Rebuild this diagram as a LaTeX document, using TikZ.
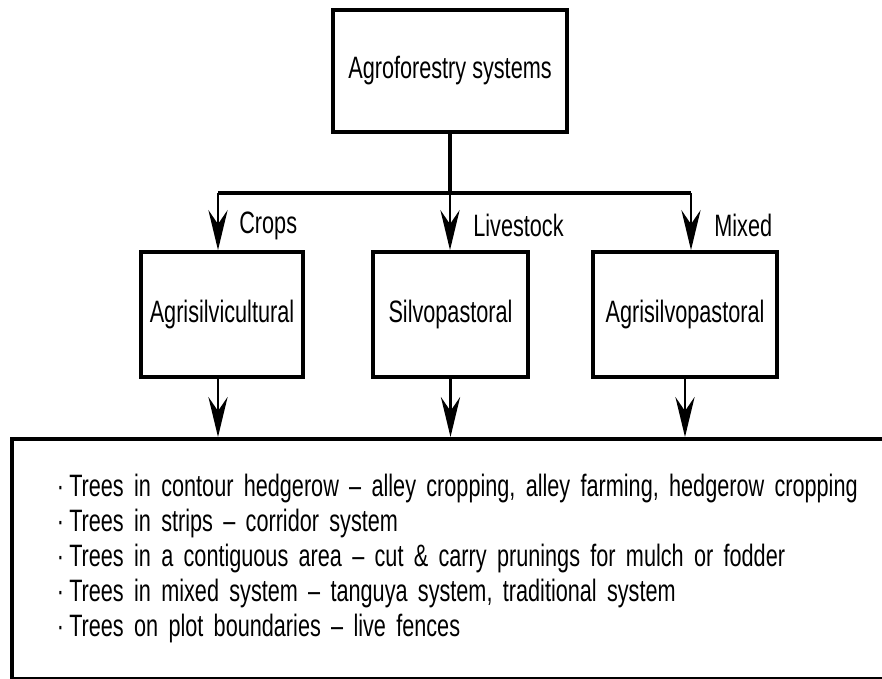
\documentclass[tikz,border=0pt]{standalone}
\usepackage{fontspec}
\setmainfont{Liberation Sans}[FakeStretch=0.70]
\usetikzlibrary{arrows.meta}
\newcommand{\diagfont}{\fontsize{22pt}{24.9pt}\selectfont}

\begin{document}
\begin{tikzpicture}[
        x=0.025cm, y=-0.025cm,
        sysbox/.style={draw, line width=2.7pt, rectangle, inner sep=0pt, align=center, font=\diagfont},
        listbox/.style={draw, line width=2.7pt, rectangle, inner ysep=0pt, inner xsep=1.125cm, align=left, font=\diagfont, text width=21cm, minimum width=23.25cm, minimum height=6cm},
        arrow/.style={-{Stealth[length=1cm, width=0.48cm, inset=0.35cm]}, line width=1.9pt},
        branch/.style={right, inner sep=0pt, font=\diagfont}
      ]
        \path[use as bounding box, clip] (0,0) rectangle (882,678);

        % Nodes
        \node [sysbox, minimum width=5.85cm, minimum height=3.05cm] (agro) at (450,71) {Agroforestry systems};
        \node [sysbox, minimum width=4.05cm, minimum height=3.125cm] (agrisilvi) at (222,314.5) {Agrisilvicultural};
        \node [sysbox, minimum width=3.875cm, minimum height=3.125cm] (silvo) at (450.5,314.5) {Silvopastoral};
        \node [sysbox, minimum width=4.6cm, minimum height=3.125cm] (agrisilvo) at (685,314.5) {Agrisilvopastoral};
        \node [listbox, anchor=north west] (list) at (10,437) {%
          ·\,Trees in contour hedgerow -- alley cropping, alley farming, hedgerow cropping\\
          ·\,Trees in strips -- corridor system\\
          ·\,Trees in a contiguous area -- cut \& carry prunings for mulch or fodder\\
          ·\,Trees in mixed system -- tanguya system, traditional system\\
          ·\,Trees on plot boundaries -- live fences};

        % Bus
        \coordinate (crops) at (218,193);
        \coordinate (stock) at (450,193);
        \coordinate (mixed) at (691,193);
        \draw [line width=2.7pt] (agro.south) -- (stock);
        \draw [line width=2.7pt] (crops) -- (mixed);

        % Connections
        \draw [arrow] (crops) -- node[branch, xshift=0.5cm, yshift=-0.1cm] {Crops} (crops |- agrisilvi.north);
        \draw [arrow] (stock) -- node[branch, xshift=0.55cm, yshift=-0.1cm] {Livestock} (stock |- silvo.north);
        \draw [arrow] (mixed) -- node[branch, xshift=0.55cm, yshift=-0.1cm] {Mixed} (mixed |- agrisilvo.north);

        \draw [arrow] (crops |- agrisilvi.south) -- (crops |- list.north);
        \draw [arrow] (silvo.south) -- (silvo.south |- list.north);
        \draw [arrow] (agrisilvo.south) -- (agrisilvo.south |- list.north);
      \end{tikzpicture}
\end{document}
